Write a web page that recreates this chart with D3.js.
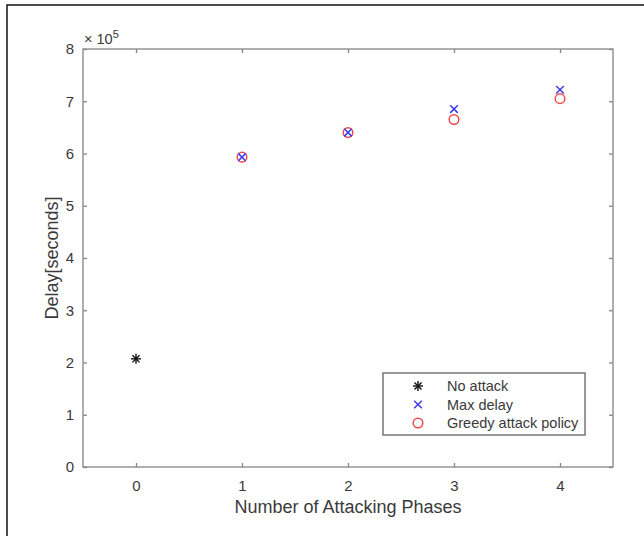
<!DOCTYPE html>
<html lang="en">
<head>
<meta charset="UTF-8">
<title>Delay vs attacking phases</title>
<style>
  body { margin: 0; background: #fff; }
  text { font-family: Arial, "Liberation Sans", sans-serif; }
</style>
</head>
<body>
<script src="https://d3js.org/d3.v7.min.js"></script>
<script>
// values (delay in units of 1e5 seconds)
const noAttackPhases = [0]
const noAttackDelay = [2.07]
const phases = [1, 2, 3, 4]
const maxDelay = [5.93, 6.40, 6.85, 7.22]
const greedyDelay = [5.93, 6.40, 6.65, 7.05]
const xTicks = [0, 1, 2, 3, 4]
const yTicks = [0, 1, 2, 3, 4, 5, 6, 7, 8]

const width = 644
const height = 536
const margin = { top: 49, right: 31, bottom: 69, left: 83 }

const svg = d3.select('body')
  .append('svg')
  .attr('width', width)
  .attr('height', height)

// outer frame (left + top visible)
svg.append('path')
  .attr('d', 'M7,536 V5 H644')
  .attr('fill', 'none')
  .attr('stroke', '#111')
  .attr('stroke-width', 1.5)

const x = d3.scaleLinear().domain([-0.5, 4.5]).range([margin.left, width - margin.right])
const y = d3.scaleLinear().domain([0, 8]).range([height - margin.bottom, margin.top])

const axisColor = '#858585'
const textColor = '#3a3a3a'

// box
svg.append('rect')
  .attr('x', x(-0.5)).attr('y', y(8))
  .attr('width', x(4.5) - x(-0.5)).attr('height', y(0) - y(8))
  .attr('fill', 'none')
  .attr('stroke', axisColor)
  .attr('stroke-width', 1.3)

function styleAxis(g) {
  g.select('.domain').remove()
  g.selectAll('line').attr('stroke', axisColor).attr('stroke-width', 1.3)
  g.selectAll('text').attr('fill', textColor).attr('font-size', 15)
}

svg.append('g')
  .attr('transform', `translate(0,${y(0)})`)
  .call(d3.axisBottom(x).tickValues(xTicks).tickSizeInner(-4).tickSizeOuter(0).tickPadding(13).tickFormat(d3.format('d')))
  .call(styleAxis)

svg.append('g')
  .attr('transform', `translate(0,${y(8)})`)
  .call(d3.axisTop(x).tickValues(xTicks).tickSizeInner(-4).tickSizeOuter(0).tickFormat(''))
  .call(styleAxis)

svg.append('g')
  .attr('transform', `translate(${x(-0.5)},0)`)
  .call(d3.axisLeft(y).tickValues(yTicks).tickSizeInner(-4).tickSizeOuter(0).tickPadding(9).tickFormat(d3.format('d')))
  .call(styleAxis)

svg.append('g')
  .attr('transform', `translate(${x(4.5)},0)`)
  .call(d3.axisRight(y).tickValues(yTicks).tickSizeInner(-4).tickSizeOuter(0).tickFormat(''))
  .call(styleAxis)

// exponent label
const expo = svg.append('text')
  .attr('x', x(-0.5) + 1)
  .attr('y', y(8) - 5)
  .attr('fill', textColor)
  .attr('font-size', 14.5)
expo.append('tspan').text('\u00d7 10')
expo.append('tspan').attr('dy', -6).attr('font-size', 11).text('5')

// axis titles
svg.append('text')
  .attr('x', (x(-0.5) + x(4.5)) / 2)
  .attr('y', 513)
  .attr('text-anchor', 'middle')
  .attr('fill', textColor)
  .attr('font-size', 18)
  .text('Number of Attacking Phases')

svg.append('text')
  .attr('transform', `translate(58,${(y(0) + y(8)) / 2}) rotate(-90)`)
  .attr('text-anchor', 'middle')
  .attr('fill', textColor)
  .attr('font-size', 18)
  .text('Delay[seconds]')

// markers
function asterisk(sel, cx, cy, s, color) {
  const g = sel.append('g').attr('transform', `translate(${cx},${cy})`)
  ;[0, 45, 90, 135].forEach(a => {
    const r = a * Math.PI / 180
    g.append('line')
      .attr('x1', -s * Math.cos(r)).attr('y1', -s * Math.sin(r))
      .attr('x2', s * Math.cos(r)).attr('y2', s * Math.sin(r))
      .attr('stroke', color).attr('stroke-width', 1.4)
  })
}
function cross(sel, cx, cy, s, color) {
  sel.append('path')
    .attr('d', `M${cx - s},${cy - s}L${cx + s},${cy + s}M${cx - s},${cy + s}L${cx + s},${cy - s}`)
    .attr('stroke', color).attr('stroke-width', 1.5).attr('fill', 'none')
}
function ring(sel, cx, cy, r, color) {
  sel.append('circle')
    .attr('cx', cx).attr('cy', cy).attr('r', r)
    .attr('fill', 'none').attr('stroke', color).attr('stroke-width', 1.5)
}

const blue = '#3a3aee'
const red = '#ee4a4a'
const marks = svg.append('g')

noAttackPhases.forEach((p, i) => asterisk(marks, x(p), y(noAttackDelay[i]), 5, '#111'))
phases.forEach((p, i) => ring(marks, x(p), y(greedyDelay[i]), 4.8, red))
phases.forEach((p, i) => cross(marks, x(p), y(maxDelay[i]), 3.8, blue))

// legend
const lg = svg.append('g')
lg.append('rect')
  .attr('x', 383).attr('y', 373).attr('width', 202).attr('height', 62)
  .attr('fill', '#fff').attr('stroke', '#555').attr('stroke-width', 1.2)

const legendItems = [
  { label: 'No attack', draw: (cx, cy) => asterisk(lg, cx, cy, 5, '#111') },
  { label: 'Max delay', draw: (cx, cy) => cross(lg, cx, cy, 3.8, blue) },
  { label: 'Greedy attack policy', draw: (cx, cy) => ring(lg, cx, cy, 4.8, red) }
]
legendItems.forEach((d, i) => {
  const cy = 386 + i * 18.5
  d.draw(418, cy)
  lg.append('text')
    .attr('x', 447).attr('y', cy + 5)
    .attr('fill', textColor)
    .attr('font-size', 14.5)
    .text(d.label)
})
</script>
</body>
</html>
